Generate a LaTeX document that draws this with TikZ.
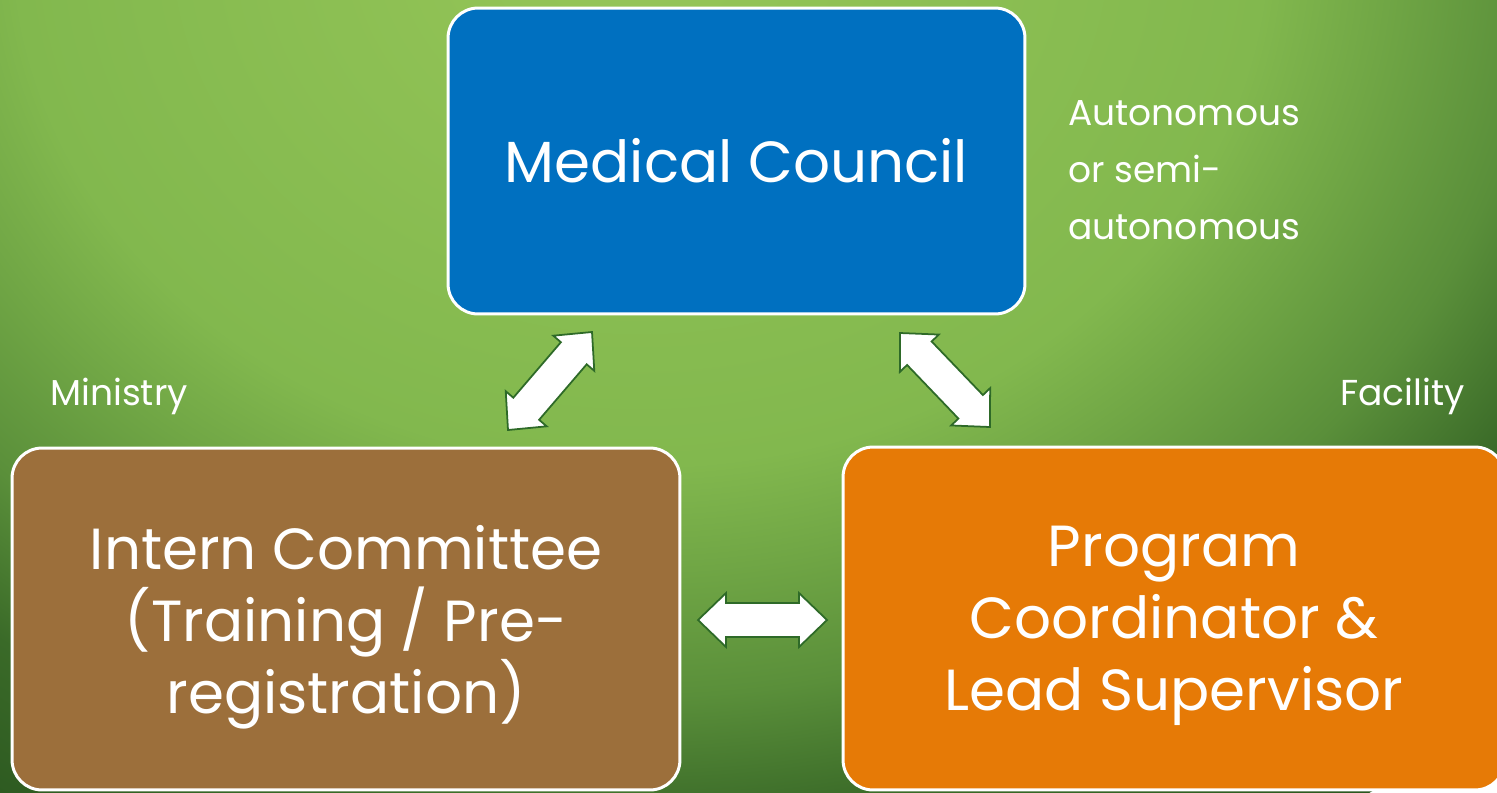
\documentclass[tikz,border=0pt]{standalone}
\usepackage{fontspec}
\setmainfont{Poppins}
\usetikzlibrary{calc}

\definecolor{councilblue}{HTML}{0070C0}
\definecolor{internbrown}{HTML}{9C6F3B}
\definecolor{facilityorange}{HTML}{E67A06}
\definecolor{arrowgreen}{HTML}{2E6A28}
% background greens, light centre to dark rim
\definecolor{bgTop}{HTML}{96C658}
\definecolor{bgA}{HTML}{82B84E}
\definecolor{bgB}{HTML}{70A645}
\definecolor{bgC}{HTML}{5A8F3A}
\definecolor{bgD}{HTML}{3A6A28}
\definecolor{bgDark}{HTML}{2A561F}

% the path's box covers 0bp..25bp of the radius
\pgfdeclareradialshading{greenglow}{\pgfpointorigin}{%
  color(0bp)=(bgTop); color(12.5bp)=(bgA); color(15bp)=(bgB);
  color(18bp)=(bgC); color(21bp)=(bgD); color(25bp)=(bgDark);
  color(50bp)=(bgDark)}

\tikzset{
  box/.style={draw=white, line width=1.7pt, rounded corners=0.6cm,
    text=white, align=center, inner sep=0pt,
    font=\fontsize{33}{41}\selectfont},
  sidelabel/.style={text=white, inner sep=0pt,
    font=\fontsize{20.5}{32.4}\selectfont},
  blockarrow/.style={fill=white, draw=arrowgreen, line width=1pt,
    line join=miter},
}

% white double block arrow between two named coordinates
\newcommand{\blockarrow}[2]{%
  \coordinate (#1-h) at ($(#1)!0.56cm!(#2)$);
  \coordinate (#2-h) at ($(#2)!0.56cm!(#1)$);
  \draw[blockarrow] (#1)
    -- ($(#1-h)!0.54cm!90:(#2)$) -- ($(#1-h)!0.34cm!90:(#2)$)
    -- ($(#2-h)!0.34cm!-90:(#1)$) -- ($(#2-h)!0.54cm!-90:(#1)$)
    -- (#2)
    -- ($(#2-h)!0.54cm!90:(#1)$) -- ($(#2-h)!0.34cm!90:(#1)$)
    -- ($(#1-h)!0.34cm!-90:(#2)$) -- ($(#1-h)!0.54cm!-90:(#2)$)
    -- cycle;}

\begin{document}
\begin{tikzpicture}[x=0.02cm, y=-0.02cm]  % 1 unit = 1 px, y downwards

    \useasboundingbox (0,0) rectangle (1497,792);
    \clip (0,0) rectangle (1497,792);

    % Background
    \shade[shading=greenglow] (640,-60) ellipse (1250 and 1050);

    % Boxes
    \node[box, fill=councilblue, minimum width=11.54cm, minimum height=6.12cm]
        (council) at (736.5,161) {Medical Council};
    \node[box, fill=internbrown, minimum width=13.36cm, minimum height=6.84cm,
        text depth=0pt]
        (intern) at (346,619) {Intern Committee\\(Training / Pre-\\registration)};
    \node[box, fill=facilityorange, minimum width=13.24cm, minimum height=6.86cm,
        text depth=0pt]
        (coord) at (1174,618.5) {Program\\Coordinator \&\\Lead Supervisor};

    % Side labels
    \node[sidelabel, anchor=base west] (ministry) at (50,405) {Ministry};
    \node[sidelabel, anchor=base east] (facility) at (1465,405) {Facility};
    \node[sidelabel, anchor=north west, align=left] (autonomy) at (1068,100)
        {Autonomous\\or semi-\\autonomous};

    % Arrow ends
    \coordinate (left-lo) at (508,430);
    \coordinate (left-hi) at (592,332);
    \coordinate (right-hi) at (900,333);
    \coordinate (right-lo) at (990,427);
    \coordinate (mid-l) at (698,620);
    \coordinate (mid-r) at (827,620);

    % Arrows
    \blockarrow{left-lo}{left-hi}
    \blockarrow{right-hi}{right-lo}
    \blockarrow{mid-l}{mid-r}

\end{tikzpicture}
\end{document}
